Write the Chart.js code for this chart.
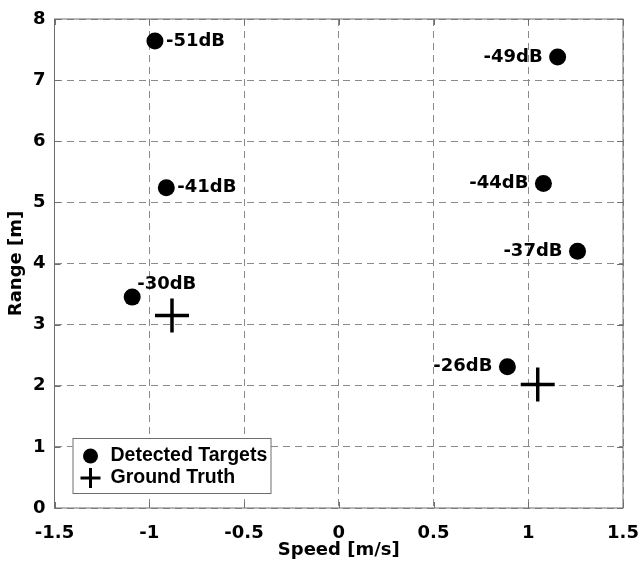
<!DOCTYPE html>
<html>
<head>
<meta charset="utf-8">
<script src="https://cdn.jsdelivr.net/npm/chart.js@4.4.1/dist/chart.umd.min.js"></script>
<style>
  html, body { margin: 0; padding: 0; background: #fff; }
  #wrap { width: 639px; height: 562px; }
</style>
</head>
<body>
<div id="wrap"><canvas id="radarChart" width="639" height="562"></canvas></div>
<script>
// detected targets
const targetSpeed = [-0.97, -0.91, -1.09, 1.155, 1.08, 1.26, 0.89];
const targetRange = [7.64, 5.24, 3.45, 7.38, 5.31, 4.20, 2.31];
const targetPower = [-51, -41, -30, -49, -44, -37, -26];

// ground truth
const truthSpeed = [-0.88, 1.05];
const truthRange = [3.15, 2.02];

// axis ticks
const speedTicks = [-1.5, -1, -0.5, 0, 0.5, 1, 1.5];
const rangeTicks = [0, 1, 2, 3, 4, 5, 6, 7, 8];

// where each dB label sits next to its dot
const labelSide = ['right', 'right', 'above', 'left', 'left', 'left', 'left'];

const labelFont = 'bold 18px "DejaVu Sans"';
const gridColor = '#8a8a8a';

const targetPoints = targetSpeed.map((s, i) => ({ x: s, y: targetRange[i] }));
const truthPoints = truthSpeed.map((s, i) => ({ x: s, y: truthRange[i] }));

const framePlugin = {
    id: 'frame',
    beforeDatasetsDraw(chart) {
        const { ctx, chartArea: a } = chart;
        ctx.save();
        ctx.strokeStyle = '#6e6e6e';
        ctx.lineWidth = 1;
        ctx.strokeRect(a.left, a.top, a.right - a.left, a.bottom - a.top);
        // small inner tick marks
        ctx.beginPath();
        chart.scales.x.ticks.forEach(t => {
            const px = Math.round(chart.scales.x.getPixelForValue(t.value)) + 0.5;
            ctx.moveTo(px, a.bottom); ctx.lineTo(px, a.bottom - 6);
            ctx.moveTo(px, a.top); ctx.lineTo(px, a.top + 6);
        });
        chart.scales.y.ticks.forEach(t => {
            const py = Math.round(chart.scales.y.getPixelForValue(t.value)) + 0.5;
            ctx.moveTo(a.left, py); ctx.lineTo(a.left + 6, py);
            ctx.moveTo(a.right, py); ctx.lineTo(a.right - 6, py);
        });
        ctx.stroke();
        ctx.restore();
    },
    afterDatasetsDraw(chart) {
        const { ctx } = chart;
        const meta = chart.getDatasetMeta(0);
        ctx.save();
        ctx.font = labelFont;
        ctx.fillStyle = '#000';
        ctx.textBaseline = 'middle';
        meta.data.forEach((pt, i) => {
            const txt = targetPower[i] + 'dB';
            const side = labelSide[i];
            if (side === 'right') {
                ctx.textAlign = 'left';
                ctx.fillText(txt, pt.x + 11, pt.y);
            } else if (side === 'left') {
                ctx.textAlign = 'right';
                ctx.fillText(txt, pt.x - 15, pt.y);
            } else {
                ctx.textAlign = 'left';
                ctx.fillText(txt, pt.x + 5, pt.y - 13);
            }
        });
        ctx.restore();
    },
    afterDraw(chart) {
        // legend box inside the plot, lower left
        const { ctx, chartArea: a } = chart;
        const bx = a.left + 18, by = a.bottom - 70, bw = 198, bh = 55;
        ctx.save();
        ctx.fillStyle = '#fff';
        ctx.fillRect(bx, by, bw, bh);
        ctx.strokeStyle = '#6e6e6e';
        ctx.lineWidth = 1;
        ctx.strokeRect(bx + 0.5, by + 0.5, bw, bh);
        ctx.fillStyle = '#000';
        ctx.beginPath();
        ctx.arc(bx + 18, by + 18, 7.5, 0, Math.PI * 2);
        ctx.fill();
        ctx.strokeStyle = '#000';
        ctx.lineWidth = 3;
        ctx.beginPath();
        ctx.moveTo(bx + 8, by + 40); ctx.lineTo(bx + 28, by + 40);
        ctx.moveTo(bx + 18, by + 30); ctx.lineTo(bx + 18, by + 50);
        ctx.stroke();
        ctx.font = 'bold 19.5px "Liberation Sans", Arial, sans-serif';
        ctx.textBaseline = 'middle';
        ctx.textAlign = 'left';
        ctx.fillText(chart.data.datasets[0].label, bx + 38, by + 18);
        ctx.fillText(chart.data.datasets[1].label, bx + 38, by + 40);
        ctx.restore();
    }
};

const ctx = document.getElementById('radarChart').getContext('2d');

const radarChart = new Chart(ctx, {
    type: 'scatter',
    data: {
        datasets: [{
            label: 'Detected Targets',
            data: targetPoints,
            pointStyle: 'circle',
            pointRadius: 8.5,
            backgroundColor: '#000',
            borderColor: '#000',
            borderWidth: 0
        }, {
            label: 'Ground Truth',
            data: truthPoints,
            pointStyle: 'cross',
            pointRadius: 17,
            borderColor: '#000',
            borderWidth: 3.5
        }]
    },
    options: {
        responsive: false,
        animation: false,
        layout: {
            autoPadding: false,
            padding: { top: 19, right: 16, left: 0, bottom: 0 }
        },
        plugins: {
            legend: { display: false },
            tooltip: { enabled: false }
        },
        scales: {
            x: {
                type: 'linear',
                min: -1.5,
                max: 1.5,
                afterBuildTicks: scale => { scale.ticks = speedTicks.map(v => ({ value: v })); },
                afterFit: scale => {
                    scale.height = 54;
                    scale.paddingLeft = 0;
                    scale.paddingRight = 0;
                },
                ticks: {
                    color: '#000',
                    font: { family: 'DejaVu Sans', size: 18, weight: 'bold' },
                    padding: 15,
                    maxRotation: 0,
                    callback: v => String(v)
                },
                grid: {
                    color: gridColor,
                    lineWidth: 1,
                    drawTicks: false
                },
                border: { display: false, dash: [7, 5] },
                title: {
                    display: true,
                    text: 'Speed [m/s]',
                    color: '#000',
                    font: { family: 'DejaVu Sans', size: 18, weight: 'bold' },
                    padding: { top: 0, bottom: 1 }
                }
            },
            y: {
                type: 'linear',
                min: 0,
                max: 8,
                afterBuildTicks: scale => { scale.ticks = rangeTicks.map(v => ({ value: v })); },
                afterFit: scale => {
                    scale.width = 54.5;
                    scale.paddingTop = 0;
                    scale.paddingBottom = 0;
                },
                ticks: {
                    color: '#000',
                    font: { family: 'DejaVu Sans', size: 18, weight: 'bold' },
                    padding: 9,
                    callback: v => String(v)
                },
                grid: {
                    color: gridColor,
                    lineWidth: 1,
                    drawTicks: false
                },
                border: { display: false, dash: [7, 5] },
                title: {
                    display: true,
                    text: 'Range [m]',
                    color: '#000',
                    font: { family: 'DejaVu Sans', size: 18, weight: 'bold' },
                    padding: { top: 6, bottom: 0 }
                }
            }
        }
    },
    plugins: [framePlugin]
});
</script>
</body>
</html>
